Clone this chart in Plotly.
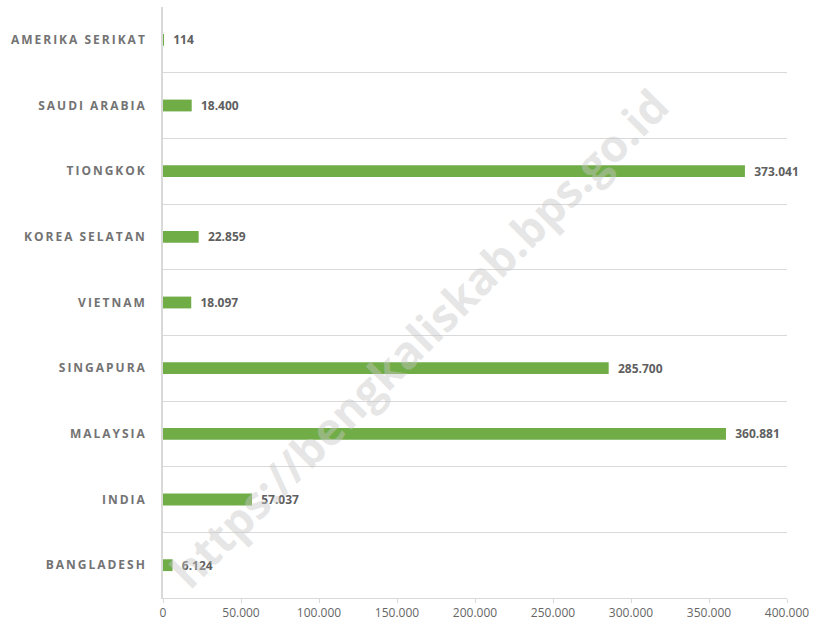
import plotly.graph_objects as go

countries = ["AMERIKA SERIKAT", "SAUDI ARABIA", "TIONGKOK", "KOREA SELATAN", "VIETNAM",
             "SINGAPURA", "MALAYSIA", "INDIA", "BANGLADESH"]
values = [114, 18400, 373041, 22859, 18097, 285700, 360881, 57037, 6124]
x_ticks = [0, 50000, 100000, 150000, 200000, 250000, 300000, 350000, 400000]

def spaced(s):
    return "\u2009".join(list(s))

labels = [spaced(c) for c in countries]

fig = go.Figure(go.Bar(
    y=labels, x=values, orientation="h",
    marker=dict(color="#70AD47", line=dict(width=0)),
    width=0.18,
    text=values,
    texttemplate="\u00a0\u00a0%{x:,}",
    textposition="outside",
    constraintext="none",
    textfont=dict(family="Open Sans", size=12, color="#5f5f5f", weight="bold"),
    cliponaxis=False,
))

fig.update_layout(
    width=816, height=627,
    margin=dict(l=163, r=29, t=7, b=29, autoexpand=False),
    paper_bgcolor="white", plot_bgcolor="white",
    separators=",.",
    showlegend=False,
    font=dict(family="Open Sans", color="#595959"),
    xaxis=dict(range=[0, 400000], tickvals=x_ticks, tickformat=",",
               showgrid=False, zeroline=False, automargin=False,
               showline=True, linecolor="#d9d9d9", linewidth=1,
               ticks="outside", ticklen=4, tickcolor="#d9d9d9",
               tickfont=dict(size=12, color="#666666")),
    yaxis=dict(type="category", autorange="reversed", automargin=False,
               tickson="boundaries", showgrid=True, gridcolor="#d9d9d9", gridwidth=1,
               showline=True, linecolor="#d9d9d9", linewidth=1.5,
               ticks="", ticklabelstandoff=14,
               tickfont=dict(size=12, color="#737373", weight="bold")),
    annotations=[dict(
        text="https://bengkaliskab.bps.go.id", x=0.41, y=0.44,
        xref="paper", yref="paper", showarrow=False, textangle=-45,
        font=dict(family="Open Sans", size=45, color="rgba(200,200,200,0.45)", weight="bold"),
    )],
)

fig.write_html("out.html", config={"displayModeBar": False},
               post_script="document.body.style.margin='0';document.body.style.overflow='hidden';")
